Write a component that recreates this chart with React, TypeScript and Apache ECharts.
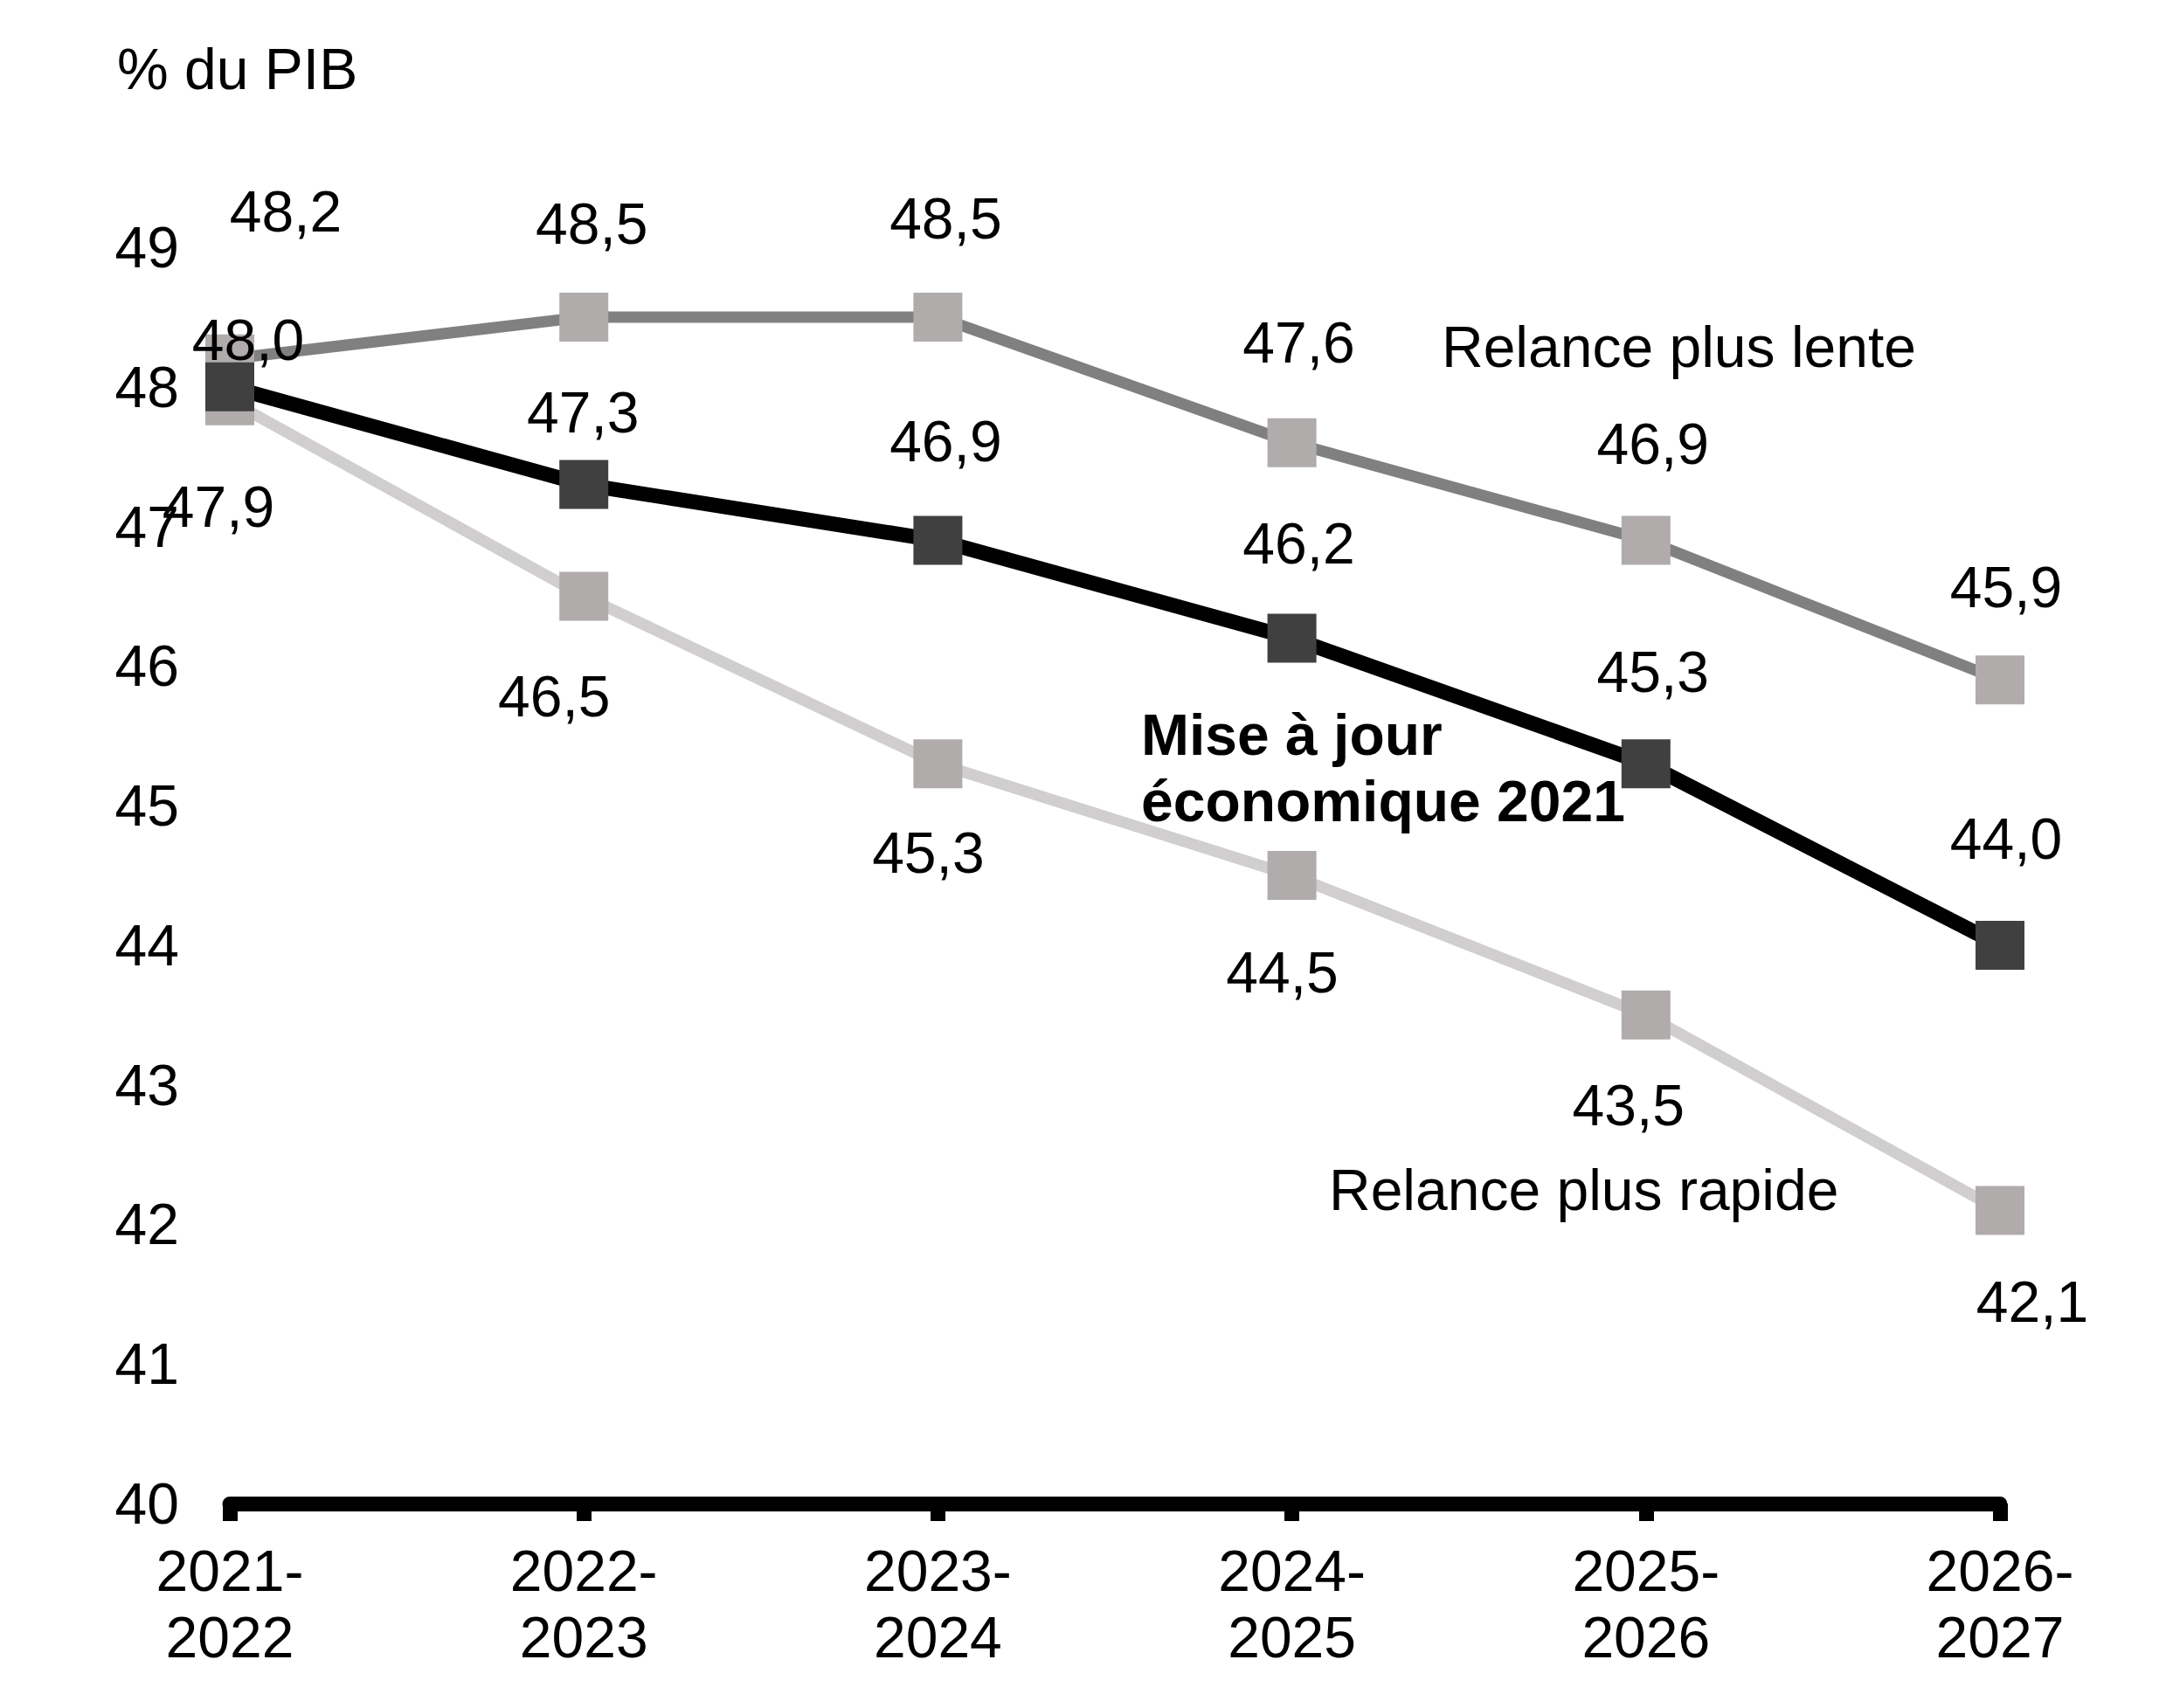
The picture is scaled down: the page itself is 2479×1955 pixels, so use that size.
import React, { useEffect, useRef } from "react";
import * as echarts from "echarts";

const categories = ["2021-\n2022", "2022-\n2023", "2023-\n2024", "2024-\n2025", "2025-\n2026", "2026-\n2027"];
const yTicks = { min: 40, max: 49, interval: 1 };

const lenteValues = [48.2, 48.5, 48.5, 47.6, 46.9, 45.9];
const miseValues = [48.0, 47.3, 46.9, 46.2, 45.3, 44.0];
const rapideValues = [47.9, 46.5, 45.3, 44.5, 43.5, 42.1];

const seriesNames = {
  lente: "Relance plus lente",
  mise: "Mise à jour\néconomique 2021",
  rapide: "Relance plus rapide",
};
const yAxisTitle = "% du PIB";

// label offsets (style only)
const lenteLabelOffsets = [[64, -169], [9, -107], [9, -113], [8, -115], [8, -111], [7, -106]];
const miseLabelOffsets = [[21, -54], [-1, -83], [9, -114], [8, -108], [8, -105], [7, -122]];
const rapideLabelOffsets = [[-13, 121], [-34, 115], [-11, 102], [-11, 111], [-20, 103], [37, 105]];

const FONT = "'Liberation Sans', Arial, Helvetica, sans-serif";
const FS = 66;

const fmt = (v: number) => v.toFixed(1).replace(".", ",");

function buildData(values: number[], offsets: number[][]) {
  return values.map((v, i) => ({
    value: v,
    label: { offset: offsets[i] },
  }));
}

function makeSeries(name: string, values: number[], offsets: number[][], lineColor: string, markerColor: string, width: number, z: number) {
  return {
    name,
    type: "line",
    data: buildData(values, offsets),
    symbol: "rect",
    symbolSize: 56,
    showSymbol: true,
    z,
    lineStyle: { color: lineColor, width },
    itemStyle: { color: markerColor },
    emphasis: { disabled: true },
    label: {
      show: true,
      position: "inside",
      align: "center",
      verticalAlign: "middle",
      fontSize: FS,
      fontFamily: FONT,
      color: "#000",
      formatter: (p: any) => fmt(p.value),
    },
  };
}

export default function App() {
  const ref = useRef<HTMLDivElement>(null);
  useEffect(() => {
    if (!ref.current) return;
    const chart = echarts.init(ref.current, null, { renderer: "svg" });
    chart.setOption({
      animation: false,
      backgroundColor: "#fff",
      grid: { left: 263, right: 190, top: 283, bottom: 234 },
      xAxis: {
        type: "category",
        data: categories,
        boundaryGap: false,
        axisLine: { show: true, lineStyle: { color: "#000", width: 17 } },
        axisTick: { show: true, length: 20, lineStyle: { color: "#000", width: 17 } },
        axisLabel: {
          interval: 0,
          fontSize: FS,
          lineHeight: 76,
          fontFamily: FONT,
          color: "#000",
          margin: 39,
        },
        splitLine: { show: false },
      },
      yAxis: {
        type: "value",
        min: yTicks.min,
        max: yTicks.max,
        interval: yTicks.interval,
        axisLine: { show: false },
        axisTick: { show: false },
        splitLine: { show: false },
        axisLabel: { fontSize: FS, fontFamily: FONT, color: "#000", margin: 58 },
      },
      series: [
        makeSeries(seriesNames.rapide, rapideValues, rapideLabelOffsets, "#d0cecf", "#b0acab", 13, 2),
        makeSeries(seriesNames.lente, lenteValues, lenteLabelOffsets, "#808080", "#b0acab", 13, 3),
        makeSeries(seriesNames.mise, miseValues, miseLabelOffsets, "#000000", "#404040", 17, 4),
      ],
      graphic: [
        {
          type: "text",
          x: 134,
          y: 79,
          style: { text: yAxisTitle, fontSize: FS, fontFamily: FONT, fill: "#000", align: "left", verticalAlign: "middle" },
        },
        {
          type: "text",
          x: 1650,
          y: 397,
          style: { text: seriesNames.lente, fontSize: FS, fontFamily: FONT, fill: "#000", align: "left", verticalAlign: "middle" },
        },
        {
          type: "text",
          x: 1306,
          y: 803,
          style: {
            text: seriesNames.mise,
            fontSize: FS,
            fontWeight: "bold",
            lineHeight: 76,
            fontFamily: FONT,
            fill: "#000",
            align: "left",
            verticalAlign: "top",
          },
        },
        {
          type: "text",
          x: 1521,
          y: 1362,
          style: { text: seriesNames.rapide, fontSize: FS, fontFamily: FONT, fill: "#000", align: "left", verticalAlign: "middle" },
        },
      ],
    });
    return () => chart.dispose();
  }, []);
  return <div ref={ref} style={{ position: "absolute", left: 0, top: 0, width: 2479, height: 1955 }} />;
}
